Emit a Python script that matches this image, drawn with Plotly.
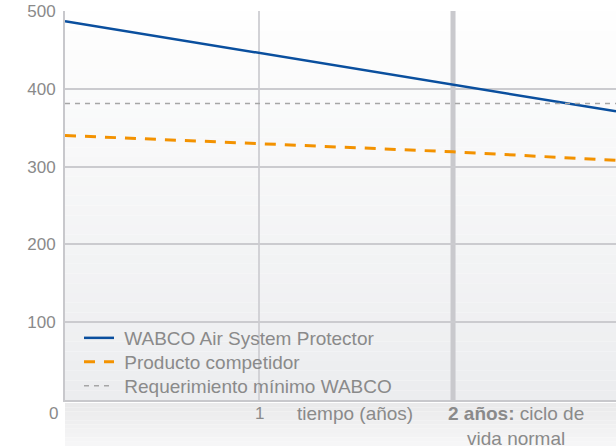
import plotly.graph_objects as go

years = [0, 1, 2, 2.84]
wabco = [487, 446, 405, 371]
competitor = [340, 329.5, 319, 308]
years_req = [0, 2.84]
requirement = [381, 381]
y_ticks = [100, 200, 300, 400, 500]
series_names = ["WABCO Air System Protector", "Producto competidor", "Requerimiento mínimo WABCO"]

TXT = "#8a8a8a"
FONT = "Liberation Sans, Arial, sans-serif"
TS = 19

ph = 389.0

def py(p):
    return (400 - p) / ph

fig = go.Figure()
fig.add_trace(go.Scatter(x=years, y=wabco, mode="lines", name="\u00a0" + series_names[0],
                         line=dict(color="#0a4f9e", width=2.5), legend="legend"))
fig.add_trace(go.Scatter(x=years, y=competitor, mode="lines", name="\u00a0" + series_names[1],
                         line=dict(color="#f39200", width=3, dash="11px,9px"), legend="legend2"))
fig.add_trace(go.Scatter(x=years_req, y=requirement, mode="lines", name="\u00a0" + series_names[2],
                         line=dict(color="#a6a6a6", width=1.5, dash="5px,5px"), legend="legend3"))

shapes = []
N = 40
top = (254, 254, 254)
bot = (236, 237, 239)
for i in range(N):
    t = i / (N - 1)
    c = tuple(round(top[k] + (bot[k] - top[k]) * t) for k in range(3))
    shapes.append(dict(type="rect", xref="paper", yref="paper", x0=0, x1=1,
                       y0=1 - (i + 1) / N, y1=1 - i / N, fillcolor="rgb(%d,%d,%d)" % c,
                       line=dict(width=0), layer="below"))
# strip below plot
M = 10
s_top = (234, 234, 235)
s_bot = (246, 246, 247)
for i in range(M):
    t = i / (M - 1)
    c = tuple(round(s_top[k] + (s_bot[k] - s_top[k]) * t) for k in range(3))
    y1 = -3 / ph - i * (43 / ph) / M
    y0 = -3 / ph - (i + 1) * (43 / ph) / M
    shapes.append(dict(type="rect", xref="paper", yref="paper", x0=0, x1=1,
                       y0=y0, y1=y1, fillcolor="rgb(%d,%d,%d)" % c,
                       line=dict(width=0), layer="below"))
shapes.append(dict(type="line", xref="x", yref="paper", x0=2, x1=2, y0=0, y1=1,
                   line=dict(color="#c9c9cd", width=5), layer="below"))

ly = py(413)
annotations = [
    dict(x=0, y=ly, xref="x", yref="paper", text="0", showarrow=False, xanchor="right",
         yanchor="middle", xshift=-5, font=dict(size=17, color=TXT, family=FONT)),
    dict(x=1, y=ly, xref="x", yref="paper", text="1", showarrow=False, yanchor="middle",
         font=dict(size=17, color=TXT, family=FONT)),
    dict(x=(355 - 65) / 194, y=ly, xref="x", yref="paper", text="tiempo (años)", showarrow=False,
         yanchor="middle", font=dict(size=TS, color=TXT, family=FONT)),
    dict(x=(516 - 65) / 194, y=py(401), xref="x", yref="paper", yanchor="top",
         text="<b>2 años:</b> ciclo de<br>vida normal", showarrow=False,
         font=dict(size=TS, color=TXT, family=FONT)),
]

lx = (79 - 65) / 551.0
leg = dict(x=lx, xanchor="left", yanchor="middle", bgcolor="rgba(0,0,0,0)",
           font=dict(size=TS, color=TXT, family=FONT), itemwidth=30)

fig.update_layout(
    width=616, height=446,
    margin=dict(l=65, r=0, t=11, b=46),
    paper_bgcolor="white", plot_bgcolor="rgba(0,0,0,0)",
    font=dict(family=FONT, size=17, color=TXT),
    shapes=shapes, annotations=annotations,
    showlegend=True,
    legend=dict(leg, y=py(338)),
    legend2=dict(leg, y=py(362)),
    legend3=dict(leg, y=py(386)),
    xaxis=dict(range=[0, 2.84], tickvals=[1], showticklabels=False, showgrid=True,
               gridcolor="#d2d2d6", gridwidth=1.5, zeroline=False,
               showline=True, linecolor="#c8c8cc", linewidth=2, fixedrange=True),
    yaxis=dict(range=[0, 500], tickvals=y_ticks, showgrid=True, gridcolor="#cbcbcf",
               gridwidth=2, zeroline=False, showline=True, linecolor="#c8c8cc",
               linewidth=2, ticklabelstandoff=4,
               tickfont=dict(size=17, color=TXT, family=FONT)),
)

fig.write_html("out.html", config={"displayModeBar": False},
               post_script="document.body.style.margin='0';")
